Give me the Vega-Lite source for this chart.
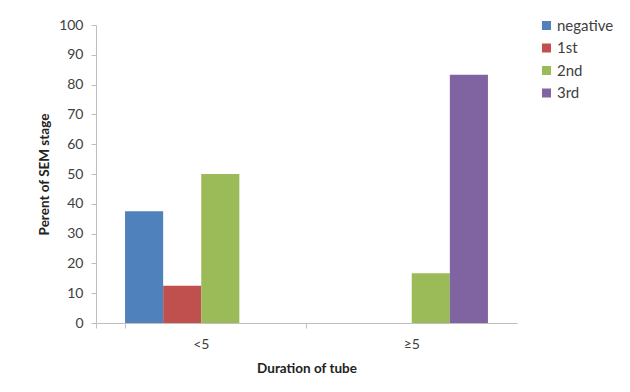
{
  "$schema": "https://vega.github.io/schema/vega-lite/v6.json",
  "width": 421,
  "height": 298,
  "autosize": {"type": "none"},
  "padding": {"left": 96, "top": 25, "right": 113, "bottom": 69},
  "background": "white",
  "config": {
    "font": "Lato",
    "view": {"stroke": null},
    "axis": {
      "labelFont": "Lato",
      "titleFont": "Lato",
      "labelFontSize": 14,
      "titleFontSize": 13.5,
      "labelColor": "#404040",
      "titleColor": "#222222",
      "domainColor": "#bfbfbf",
      "tickColor": "#bfbfbf",
      "grid": false
    }
  },
  "data": {
    "values": [
      {"duration": "<5", "stage": "negative", "percent": 37.5},
      {"duration": "<5", "stage": "1st", "percent": 12.5},
      {"duration": "<5", "stage": "2nd", "percent": 50},
      {"duration": "<5", "stage": "3rd", "percent": 0},
      {"duration": "≥5", "stage": "negative", "percent": 0},
      {"duration": "≥5", "stage": "1st", "percent": 0},
      {"duration": "≥5", "stage": "2nd", "percent": 16.7},
      {"duration": "≥5", "stage": "3rd", "percent": 83.3}
    ]
  },
  "mark": {"type": "bar"},
  "encoding": {
    "x": {
      "field": "duration",
      "type": "nominal",
      "sort": ["<5", "≥5"],
      "scale": {"paddingInner": 0.276, "paddingOuter": 0.138},
      "axis": {
        "title": "Duration of tube",
        "labelAngle": 0,
        "labelPadding": 9,
        "tickSize": 5,
        "bandPosition": -0.19,
        "tickExtra": true,
        "titlePadding": 10,
        "titleFontWeight": "bold"
      }
    },
    "xOffset": {
      "field": "stage",
      "type": "nominal",
      "sort": ["negative", "1st", "2nd", "3rd"],
      "scale": {"paddingInner": 0, "paddingOuter": 0}
    },
    "y": {
      "field": "percent",
      "type": "quantitative",
      "scale": {"domain": [0, 100], "nice": false},
      "axis": {
        "title": "Perent of SEM stage",
        "values": [0, 10, 20, 30, 40, 50, 60, 70, 80, 90, 100],
        "tickSize": 5,
        "labelPadding": 8,
        "titlePadding": 7,
        "titleFontWeight": "bold"
      }
    },
    "color": {
      "field": "stage",
      "type": "nominal",
      "sort": ["negative", "1st", "2nd", "3rd"],
      "scale": {
        "domain": ["negative", "1st", "2nd", "3rd"],
        "range": ["#4F81BD", "#C0504D", "#9BBB59", "#8064A2"]
      },
      "legend": {
        "title": null,
        "orient": "none",
        "legendX": 443,
        "legendY": -7,
        "symbolType": "square",
        "symbolSize": 81,
        "symbolStrokeWidth": 0,
        "labelFontSize": 15,
        "labelFont": "Lato",
        "labelColor": "#404040",
        "labelOffset": 3,
        "rowPadding": 6.5
      }
    }
  }
}
